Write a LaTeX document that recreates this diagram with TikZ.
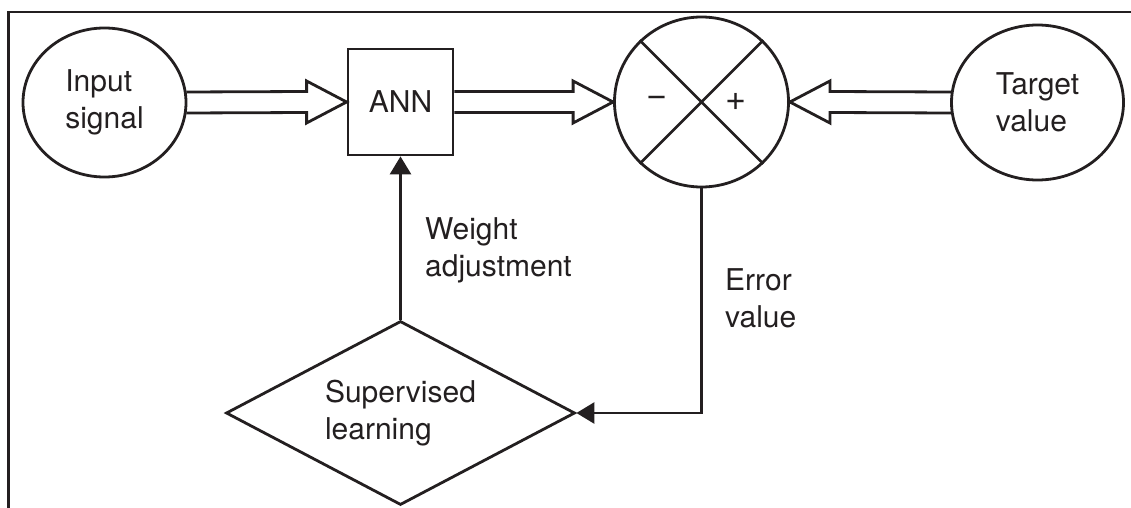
\documentclass[tikz,border=0pt]{standalone}
\usepackage{fontspec}
\setmainfont{TeX Gyre Heros}
\usetikzlibrary{shapes.geometric,arrows.meta,calc}
\definecolor{ink}{RGB}{35,31,32}
\begin{document}
\begin{tikzpicture}[x=1pt,y=-1pt,
  every node/.style={text=ink,font=\fontsize{30}{37}\selectfont,inner sep=0pt},
  outline/.style={draw=ink,line width=2.8pt},
  lbl/.style={align=left},
  sign/.style={font=\fontsize{36}{36}\selectfont},
  hollow/.style={draw=ink,line width=2.8pt,line join=miter},
  feed/.style={draw=ink,line width=2.8pt,-{Triangle[length=18pt,width=21pt]}}]
\useasboundingbox (0,0) rectangle (1131,508);
% page frame (open at the right and the bottom)
\draw[ink,line width=2.4pt] (8.5,508) -- (8.5,12) -- (1131,12);

% blocks
\node[outline,ellipse,minimum width=163pt,minimum height=149pt,lbl] (in) at (104.5,102.5) {Input\\signal};
\node[outline,rectangle,minimum width=105pt,minimum height=106pt] (ann) at (400.5,102) {ANN};
\node[outline,ellipse,minimum width=174pt,minimum height=170pt] (sum) at (701.5,102) {};
\node[outline,ellipse,minimum width=172pt,minimum height=155pt,lbl] (tgt) at (1037.5,102.5) {Target\\value};
\node[outline,diamond,aspect=1.9,minimum width=349pt,minimum height=184pt,lbl] (sup) at (400.5,413) {Supervised\\learning};

% summing junction: cross and signs
\draw[ink,line width=2.8pt] (sum.45) -- (sum.225) (sum.135) -- (sum.315);
\node[sign] (minus) at ($(sum.center)+(-44,-1)$) {−};
\node[sign] (plus) at ($(sum.center)+(34,0)$) {+};

% hollow block arrows
\draw[hollow] ($(in.east)+(-1,-10.5)$) -- ($(ann.west)+(-40,-10.5)$) -- ($(ann.west)+(-40,-21)$)
  -- (ann.west) -- ($(ann.west)+(-40,21)$) -- ($(ann.west)+(-40,10.5)$) -- ($(in.east)+(-1,10.5)$);
\draw[hollow] ($(ann.east)+(0,-10.5)$) -- ($(sum.west)+(-40,-10.5)$) -- ($(sum.west)+(-40,-21)$)
  -- (sum.west) -- ($(sum.west)+(-40,21)$) -- ($(sum.west)+(-40,10.5)$) -- ($(ann.east)+(0,10.5)$);
\draw[hollow] ($(tgt.west)+(1,-10.5)$) -- ($(sum.east)+(40,-10.5)$) -- ($(sum.east)+(40,-21)$)
  -- (sum.east) -- ($(sum.east)+(40,21)$) -- ($(sum.east)+(40,10.5)$) -- ($(tgt.west)+(1,10.5)$);

% feedback loop
\draw[feed] (sum.south) |- (sup.east);
\draw[feed] (sup.north) -- (ann.south);

% loop labels
\node[lbl,anchor=west] (wadj) at (425,250) {Weight\\adjustment};
\node[lbl,anchor=west] (err) at (725,298) {Error\\value};
\end{tikzpicture}
\end{document}
